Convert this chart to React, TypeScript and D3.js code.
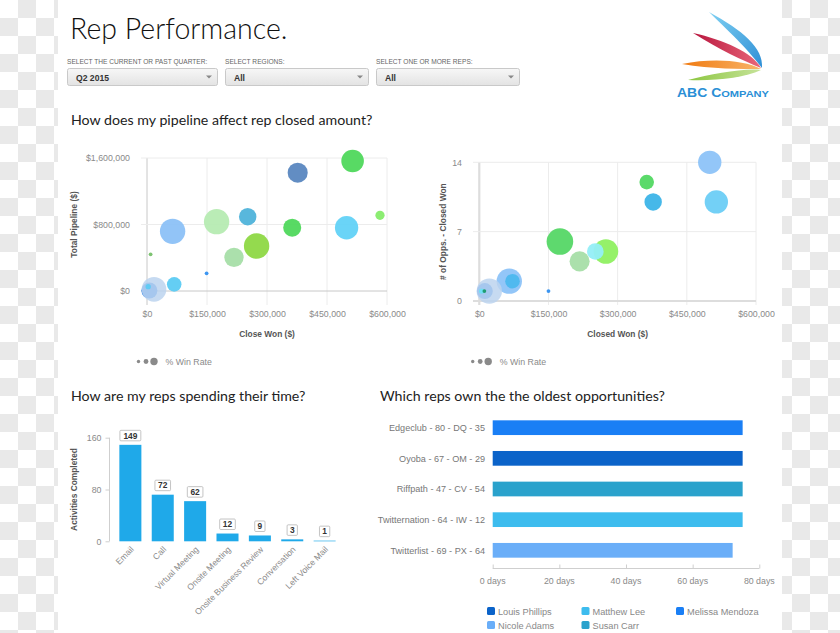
import { useRef, useEffect } from "react";
import * as d3 from "d3";

// pipeline chart (left scatter)
const pipeCloseWon = [376700, 514000, 582500, 499000, 363000, 251700, 174000, 64000, 274000, 217500, 9000, 149000, 68000, 6000, 17500, 3000];
const pipeTotal = [1423000, 1564000, 911000, 761000, 761000, 894000, 834000, 718000, 541000, 405000, 441000, 213000, 80000, 6000, 20000, 52000];
const pipeWinRate = [57, 72, 12, 77, 46, 43, 91, 91, 91, 53, 2, 2, 30, 36, 86, 4];
const pipeColors = ["#5a87c0", "#4fd85c", "#86ec6a", "#62d2f7", "#4fd85c", "#4fb3da", "#b6ebb2", "#8cc1f7", "#8ed845", "#a6dea8", "#76c06a", "#3390f0", "#5ccbf3", "#1f7ae6", "#bcd3ee", "#5ccbf3"];

// opps chart (right scatter)
const oppsCloseWon = [499700, 514000, 363000, 377000, 174800, 274500, 251600, 217500, 65000, 72000, 150000, 12000, 21700, 5000, 11000];
const oppsCount = [14, 10, 12, 10, 6, 5, 5, 4, 2, 2, 1, 1, 1, 1, 1];
const oppsWinRate = [77, 77, 30, 43, 100, 86, 39, 57, 91, 30, 2, 36, 91, 4, 2];
const oppsColors = ["#8dc3f8", "#6bcef6", "#52d862", "#3cb4e8", "#55d766", "#8ff061", "#94eef7", "#a6dea8", "#8dc3f8", "#4cb8ee", "#3390f0", "#1f7ae6", "#bcd3ee", "#6fe0f5", "#1a9a6c"];

const moneyTicks = [0, 150000, 300000, 450000, 600000];
const pipeTicks = [0, 800000, 1600000];
const oppsTicks = [0, 7, 14];

// activities
const activities = ["Email", "Call", "Virtual Meeting", "Onsite Meeting", "Onsite Business Review", "Conversation", "Left Voice Mail"];
const activityCounts = [149, 72, 62, 12, 9, 3, 1];
const activityTicks = [0, 80, 160];

// oldest opportunities
const opps = ["Edgeclub - 80 - DQ - 35", "Oyoba - 67 - OM - 29", "Riffpath - 47 - CV - 54", "Twitternation - 64 - IW - 12", "Twitterlist - 69 - PX - 64"];
const oppDays = [75, 75, 75, 75, 72];
const oppOwners = ["Melissa Mendoza", "Louis Phillips", "Susan Carr", "Matthew Lee", "Nicole Adams"];
const dayTicks = [0, 20, 40, 60, 80];
const owners = ["Louis Phillips", "Matthew Lee", "Melissa Mendoza", "Nicole Adams", "Susan Carr"];
const ownerColors = ["#0b63c9", "#3dbcee", "#1a7ff5", "#6aaef8", "#2aa2cc"];

const dropdownLabels = ["SELECT THE CURRENT OR PAST QUARTER:", "SELECT REGIONS:", "SELECT ONE OR MORE REPS:"];
const dropdownValues = ["Q2 2015", "All", "All"];

const SANS = "'Liberation Sans', Arial, sans-serif";
const LATO = "Lato, 'Open Sans', sans-serif";

function App() {
  const svgRef = useRef<SVGSVGElement>(null);

  useEffect(() => {
    drawChart();
  }, []);

  function drawChart() {
    if (!svgRef.current) return;
    const svg = d3.select(svgRef.current);
    svg.selectAll("*").remove();

    // checkerboard strips on both sides
    const defs = svg.append("defs");
    const pat = defs
      .append("pattern")
      .attr("id", "checker")
      .attr("patternUnits", "userSpaceOnUse")
      .attr("width", 36)
      .attr("height", 36);
    pat.append("rect").attr("width", 36).attr("height", 36).attr("fill", "#ffffff");
    pat.append("rect").attr("x", 18).attr("y", 0).attr("width", 18).attr("height", 18).attr("fill", "#e9e9e9");
    pat.append("rect").attr("x", 0).attr("y", 18).attr("width", 18).attr("height", 18).attr("fill", "#e9e9e9");

    svg.append("rect").attr("width", 840).attr("height", 633).attr("fill", "#fff");
    svg.append("rect").attr("x", 0).attr("width", 58).attr("height", 633).attr("fill", "url(#checker)");
    svg.append("rect").attr("x", 782).attr("width", 58).attr("height", 633).attr("fill", "url(#checker)");

    const ddGrad = defs.append("linearGradient").attr("id", "dd").attr("x1", 0).attr("x2", 0).attr("y1", 0).attr("y2", 1);
    ddGrad.append("stop").attr("offset", 0).attr("stop-color", "#f7f7f7");
    ddGrad.append("stop").attr("offset", 1).attr("stop-color", "#e3e3e3");

    // title
    svg
      .append("text")
      .attr("x", 70)
      .attr("y", 38.5)
      .attr("font-family", LATO)
      .attr("font-weight", 300)
      .attr("font-size", 28.5)
      .attr("fill", "#111")
      .text("Rep Performance.");

    // dropdowns
    const ddX = [67, 225, 376];
    const ddW = [150, 143, 143];
    dropdownLabels.forEach((lab, i) => {
      svg
        .append("text")
        .attr("x", ddX[i])
        .attr("y", 63.5)
        .attr("font-family", SANS)
        .attr("font-size", 6.6)
        .attr("fill", "#666")
        .text(lab);
      svg
        .append("rect")
        .attr("x", ddX[i] + 0.5)
        .attr("y", 68.5)
        .attr("width", ddW[i])
        .attr("height", 17)
        .attr("rx", 2)
        .attr("fill", "url(#dd)")
        .attr("stroke", "#c9c9c9");
      svg
        .append("text")
        .attr("x", ddX[i] + 9)
        .attr("y", 80.5)
        .attr("font-family", SANS)
        .attr("font-weight", "bold")
        .attr("font-size", 8.6)
        .attr("fill", "#333")
        .text(dropdownValues[i]);
      const ax = ddX[i] + ddW[i] - 8;
      svg
        .append("path")
        .attr("d", `M${ax - 3},75.5 L${ax + 3},75.5 L${ax},78.5 Z`)
        .attr("fill", "#888");
    });

    // logo
    const logo = svg.append("g");
    const blueG = defs.append("linearGradient").attr("id", "lb").attr("x1", 0).attr("x2", 1).attr("y1", 0).attr("y2", 1);
    blueG.append("stop").attr("offset", 0).attr("stop-color", "#7fd0f2");
    blueG.append("stop").attr("offset", 1).attr("stop-color", "#2e8fd6");
    const redG = defs.append("linearGradient").attr("id", "lr").attr("x1", 0).attr("x2", 1);
    redG.append("stop").attr("offset", 0).attr("stop-color", "#b8163e");
    redG.append("stop").attr("offset", 1).attr("stop-color", "#e9677a");
    const orG = defs.append("linearGradient").attr("id", "lo").attr("x1", 0).attr("x2", 1);
    orG.append("stop").attr("offset", 0).attr("stop-color", "#f07a10");
    orG.append("stop").attr("offset", 1).attr("stop-color", "#f8b56a");
    const grG = defs.append("linearGradient").attr("id", "lg").attr("x1", 0).attr("x2", 1);
    grG.append("stop").attr("offset", 0).attr("stop-color", "#8cc63f");
    grG.append("stop").attr("offset", 1).attr("stop-color", "#c6e39a");
    logo.append("path").attr("d", "M709,12 C742,30 764,48 762,68 C750,52 734,36 709,12 Z").attr("fill", "url(#lb)");
    logo.append("path").attr("d", "M693,33 C724,40 752,52 761,68 C742,60 720,50 693,33 Z").attr("fill", "url(#lr)");
    logo.append("path").attr("d", "M682,64 C712,58 744,60 761,69 C740,69 712,69 682,64 Z").attr("fill", "url(#lo)");
    logo.append("path").attr("d", "M688,80 C712,74 744,68 761,70 C744,78 716,81 688,80 Z").attr("fill", "url(#lg)");
    const lt = logo
      .append("text")
      .attr("x", 677)
      .attr("y", 97)
      .attr("font-family", SANS)
      .attr("font-weight", "bold")
      .attr("fill", "#2a8fd6")
      .attr("textLength", 92)
      .attr("lengthAdjust", "spacingAndGlyphs");
    lt.append("tspan").attr("font-size", 12).text("ABC C");
    lt.append("tspan").attr("font-size", 9.5).text("OMPANY");

    // headings
    const heading = (x: number, y: number, t: string) =>
      svg
        .append("text")
        .attr("x", x)
        .attr("y", y)
        .attr("font-family", LATO)
        .attr("font-size", 14.2)
        .attr("fill", "#222")
        .text(t);
    heading(71, 124.5, "How does my pipeline affect rep closed amount?");
    heading(71, 401, "How are my reps spending their time?");
    heading(380, 401, "Which reps own the the oldest opportunities?");

    const money = (v: number) => "$" + d3.format(",")(v);
    const rScale = d3.scaleSqrt().domain([0, 100]).range([0, 13.3]);

    // generic bubble chart
    function bubbles(opts: {
      xs: number[];
      ys: number[];
      rates: number[];
      colors: string[];
      x: d3.ScaleLinear<number, number>;
      y: d3.ScaleLinear<number, number>;
      yTicks: number[];
      yFmt: (v: number) => string;
      left: number;
      bottom: number;
      zeroStroke: string;
      zeroWidth: number;
      yLabel: string;
      yLabelX: number;
      xLabel: string;
      legendX: number;
      pale: string;
    }) {
      const { x, y } = opts;
      const g = svg.append("g");
      const [x0, x1] = x.range();
      const top = y.range()[1];
      moneyTicks.forEach((t) => {
        g.append("line")
          .attr("x1", x(t))
          .attr("x2", x(t))
          .attr("y1", top)
          .attr("y2", opts.bottom)
          .attr("stroke", t === 0 ? opts.zeroStroke : "#ececec")
          .attr("stroke-width", t === 0 ? opts.zeroWidth : 1);
      });
      opts.yTicks.forEach((t) => {
        g.append("line")
          .attr("x1", opts.left)
          .attr("x2", x1)
          .attr("y1", y(t))
          .attr("y2", y(t))
          .attr("stroke", t === 0 ? opts.zeroStroke : "#ececec")
          .attr("stroke-width", t === 0 ? opts.zeroWidth : 1);
      });

      const xAxis = g
        .append("g")
        .attr("transform", `translate(0,${opts.bottom + 3})`)
        .call(d3.axisBottom(x).tickValues(moneyTicks).tickFormat((d) => money(+d)).tickSize(0));
      xAxis.select(".domain").remove();
      xAxis.selectAll("text").attr("font-family", SANS).attr("font-size", 8.8).attr("fill", "#8a8a8a");

      const yAxis = g
        .append("g")
        .attr("transform", `translate(${opts.left - 8},0)`)
        .call(d3.axisLeft(y).tickValues(opts.yTicks).tickFormat((d) => opts.yFmt(+d)).tickSize(0));
      yAxis.select(".domain").remove();
      yAxis.selectAll("text").attr("font-family", SANS).attr("font-size", 8.8).attr("fill", "#8a8a8a");

      g.selectAll("circle.b")
        .data(opts.xs)
        .join("circle")
        .attr("class", "b")
        .attr("cx", (d) => x(d))
        .attr("cy", (_, i) => y(opts.ys[i]))
        .attr("r", (_, i) => rScale(opts.rates[i]))
        .attr("fill", (_, i) => opts.colors[i])
        .attr("fill-opacity", (_, i) => (opts.colors[i] === opts.pale ? 0.85 : 0.95));

      g.append("text")
        .attr("transform", `translate(${opts.yLabelX},${(top + y(0)) / 2}) rotate(-90)`)
        .attr("text-anchor", "middle")
        .attr("font-family", SANS)
        .attr("font-weight", "bold")
        .attr("font-size", 8.4)
        .attr("fill", "#555")
        .text(opts.yLabel);
      g.append("text")
        .attr("x", (x0 + x1) / 2)
        .attr("y", 337)
        .attr("text-anchor", "middle")
        .attr("font-family", SANS)
        .attr("font-weight", "bold")
        .attr("font-size", 8.4)
        .attr("fill", "#555")
        .text(opts.xLabel);

      const lx = opts.legendX;
      [
        [0, 1.7],
        [7.5, 2.4],
        [15.5, 3.7],
      ].forEach(([dx, r]) => {
        g.append("circle").attr("cx", lx + dx).attr("cy", 361.5).attr("r", r).attr("fill", "#8a8a8a");
      });
      g.append("text")
        .attr("x", lx + 27)
        .attr("y", 364.5)
        .attr("font-family", SANS)
        .attr("font-size", 8.8)
        .attr("fill", "#8a8a8a")
        .text("% Win Rate");
    }

    bubbles({
      xs: pipeCloseWon,
      ys: pipeTotal,
      rates: pipeWinRate,
      colors: pipeColors,
      x: d3.scaleLinear().domain([0, 600000]).range([147, 387]),
      y: d3.scaleLinear().domain([0, 1600000]).range([291, 158]),
      yTicks: pipeTicks,
      yFmt: money,
      left: 141,
      bottom: 305,
      zeroStroke: "#c8c8c8",
      zeroWidth: 1,
      yLabel: "Total Pipeline ($)",
      yLabelX: 77,
      xLabel: "Close Won ($)",
      legendX: 138.5,
      pale: "#bcd3ee",
    });

    bubbles({
      xs: oppsCloseWon,
      ys: oppsCount,
      rates: oppsWinRate,
      colors: oppsColors,
      x: d3.scaleLinear().domain([0, 600000]).range([479.3, 756]),
      y: d3.scaleLinear().domain([0, 14]).range([301, 162.3]),
      yTicks: oppsTicks,
      yFmt: (v) => String(v),
      left: 473,
      bottom: 305,
      zeroStroke: "#dddddd",
      zeroWidth: 2.2,
      yLabel: "# of Opps. - Closed Won",
      yLabelX: 446,
      xLabel: "Closed Won ($)",
      legendX: 472.7,
      pale: "#bcd3ee",
    });

    // activities bar chart
    const bx = d3.scaleBand().domain(activities).range([109, 346]).paddingInner(0.32).paddingOuter(0.32);
    const by = d3.scaleLinear().domain([0, 160]).range([541.3, 437.7]);
    const bg = svg.append("g");
    bg.append("line").attr("x1", 109.5).attr("x2", 109.5).attr("y1", by(160)).attr("y2", by(0)).attr("stroke", "#cfcfcf");
    const ba = bg
      .append("g")
      .attr("transform", "translate(109.5,0)")
      .call(d3.axisLeft(by).tickValues(activityTicks).tickSize(4).tickPadding(4));
    ba.select(".domain").remove();
    ba.selectAll("line").attr("stroke", "#cfcfcf");
    ba.selectAll("text").attr("font-family", SANS).attr("font-size", 8.8).attr("fill", "#8a8a8a");

    bg.selectAll("rect.bar")
      .data(activityCounts)
      .join("rect")
      .attr("class", "bar")
      .attr("x", (_, i) => bx(activities[i])!)
      .attr("width", bx.bandwidth())
      .attr("y", (d) => by(d))
      .attr("height", (d) => by(0) - by(d))
      .attr("fill", "#1fa9e9");

    activityCounts.forEach((v, i) => {
      const cx = bx(activities[i])! + bx.bandwidth() / 2;
      const w = String(v).length * 5.3 + 5;
      const yb = by(v) - 4;
      bg.append("rect")
        .attr("x", cx - w / 2)
        .attr("y", yb - 10.5)
        .attr("width", w)
        .attr("height", 10.5)
        .attr("rx", 1)
        .attr("fill", "#fff")
        .attr("stroke", "#b5b5b5")
        .attr("stroke-width", 0.8);
      bg.append("text")
        .attr("x", cx)
        .attr("y", yb - 2.3)
        .attr("text-anchor", "middle")
        .attr("font-family", SANS)
        .attr("font-weight", "bold")
        .attr("font-size", 8.4)
        .attr("fill", "#333")
        .text(v);
      bg.append("text")
        .attr("transform", `translate(${cx + 4},${550}) rotate(-45)`)
        .attr("text-anchor", "end")
        .attr("font-family", SANS)
        .attr("font-size", 8.6)
        .attr("fill", "#8a8a8a")
        .text(activities[i]);
    });
    bg.append("text")
      .attr("transform", `translate(77,${(by(160) + by(0)) / 2}) rotate(-90)`)
      .attr("text-anchor", "middle")
      .attr("font-family", SANS)
      .attr("font-weight", "bold")
      .attr("font-size", 8.4)
      .attr("fill", "#555")
      .text("Activities Completed");

    // oldest opportunities
    const hx = d3.scaleLinear().domain([0, 80]).range([492.7, 759.3]);
    const hy = d3.scaleBand().domain(opps).range([405, 573]).paddingInner(0.52).paddingOuter(0.5);
    const colorOf = d3.scaleOrdinal<string, string>().domain(owners).range(ownerColors);
    const hg = svg.append("g");
    hg.selectAll("rect.hb")
      .data(oppDays)
      .join("rect")
      .attr("class", "hb")
      .attr("x", hx(0))
      .attr("y", (_, i) => hy(opps[i])!)
      .attr("height", hy.bandwidth())
      .attr("width", (d) => hx(d) - hx(0))
      .attr("fill", (_, i) => colorOf(oppOwners[i]));
    hg.selectAll("text.hl")
      .data(opps)
      .join("text")
      .attr("class", "hl")
      .attr("x", 485)
      .attr("y", (d) => hy(d)! + hy.bandwidth() / 2 + 3.2)
      .attr("text-anchor", "end")
      .attr("font-family", SANS)
      .attr("font-size", 9.1)
      .attr("fill", "#777")
      .text((d) => d);
    const hxa = hg
      .append("g")
      .attr("transform", "translate(0,568.5)")
      .call(d3.axisTop(hx).tickValues(dayTicks).tickSize(4).tickFormat(() => ""));
    hxa.select(".domain").attr("stroke", "#cfcfcf").attr("d", `M${hx(0)},0H${hx(80)}`);
    hxa.selectAll("line").attr("stroke", "#cfcfcf");
    hg.selectAll("text.dt")
      .data(dayTicks)
      .join("text")
      .attr("class", "dt")
      .attr("x", (d) => hx(d))
      .attr("y", 583.5)
      .attr("text-anchor", "middle")
      .attr("font-family", SANS)
      .attr("font-size", 8.8)
      .attr("fill", "#8a8a8a")
      .text((d) => `${d} days`);

    // legend
    owners.forEach((o, i) => {
      const col = i % 3;
      const row = Math.floor(i / 3);
      const lx = 487 + col * 94.5;
      const ly = 607 + row * 14;
      hg.append("rect").attr("x", lx).attr("y", ly).attr("width", 8).attr("height", 8).attr("rx", 1.5).attr("fill", colorOf(o));
      hg.append("text")
        .attr("x", lx + 11)
        .attr("y", ly + 7.5)
        .attr("font-family", SANS)
        .attr("font-size", 9.2)
        .attr("fill", "#888")
        .text(o);
    });
  }

  return (
    <div style={{ position: "absolute", left: 0, top: 0, width: 840, height: 633 }}>
      <svg ref={svgRef} width={840} height={633} style={{ display: "block" }} />
    </div>
  );
}

export default App;
